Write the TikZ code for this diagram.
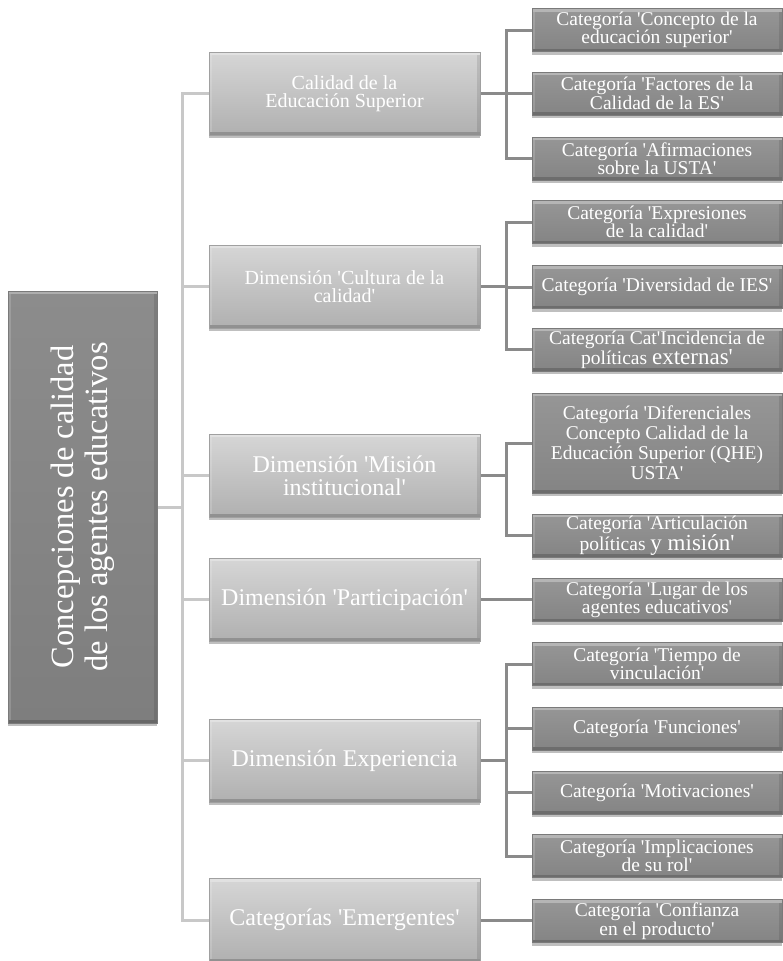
\documentclass[tikz,border=0pt]{standalone}
\usepackage{fontspec}
\setmainfont[Ligatures=TeXOff]{Liberation Serif}
\usetikzlibrary{shadows,backgrounds}
\definecolor{lonetop}{HTML}{D6D6D6}
\definecolor{lonebot}{HTML}{B0B0B0}
\definecolor{loneedge}{HTML}{A0A0A0}
\definecolor{ltwotop}{HTML}{969696}
\definecolor{ltwobot}{HTML}{848484}
\definecolor{ltwoedge}{HTML}{7A7A7A}
\definecolor{roottop}{HTML}{8C8C8C}
\definecolor{rootbot}{HTML}{7E7E7E}
\definecolor{trunkcol}{HTML}{C8C8C8}
\definecolor{branchcol}{HTML}{8A8A8A}
\begin{document}
\begin{tikzpicture}[x=1pt,y=-1pt,
  softshadow/.style={drop shadow={shadow xshift=0pt,shadow yshift=-3pt,opacity=0.25,fill=black}},
  bevel/.style={path picture={
      \fill[white,opacity=0.30] (path picture bounding box.north west) rectangle
        ([yshift=-3pt]path picture bounding box.north east);
      \fill[black,opacity=0.18] ([yshift=3pt]path picture bounding box.south west) rectangle
        (path picture bounding box.south east);
      \fill[white,opacity=0.15] ([yshift=-3pt]path picture bounding box.north west) rectangle
        ([xshift=3pt,yshift=3pt]path picture bounding box.south west);
      \fill[black,opacity=0.10] ([xshift=-3pt,yshift=-3pt]path picture bounding box.north east) rectangle
        ([yshift=3pt]path picture bounding box.south east);}},
  lvlone/.style={rectangle, minimum width=271pt, minimum height=83pt, inner sep=2pt,
    align=center, text=white, font=\fontsize{20}{18.5}\selectfont,
    top color=lonetop, bottom color=lonebot, draw=loneedge, line width=0.5pt,
    softshadow, bevel},
  bigtext/.style={font=\fontsize{24}{23}\selectfont},
  lvltwo/.style={rectangle, minimum width=250pt, minimum height=43pt, inner sep=1pt,
    align=center, text=white, font=\fontsize{19.5}{18.5}\selectfont,
    top color=ltwotop, bottom color=ltwobot, draw=ltwoedge, line width=0.5pt,
    softshadow, bevel},
  rootbox/.style={rectangle, minimum width=149pt, minimum height=432pt, inner sep=0pt,
    text=white, top color=roottop, bottom color=rootbot, draw=ltwoedge, line width=0.5pt,
    softshadow, bevel},
  trunk/.style={draw=trunkcol, line width=3pt},
  branch/.style={draw=branchcol, line width=3pt}
]
\useasboundingbox (0,0) rectangle (782,961);

% root
\node[rootbox] (root) at (82.5,507) {\rotatebox{90}{\parbox{420pt}{\centering\fontsize{32.5}{34}\selectfont Concepciones de calidad\\de los agentes educativos}}};

% level one
\node[lvlone] (L1) at (344.5,93.5) {Calidad de la\\Educación Superior};
\node[lvlone] (L2) at (344.5,286.5) {Dimensión 'Cultura de la\\calidad'};
\node[lvlone,bigtext] (L3) at (344.5,475.5) {Dimensión 'Misión\\institucional'};
\node[lvlone,bigtext] (L4) at (344.5,599.5) {Dimensión 'Participación'};
\node[lvlone,bigtext] (L5) at (344.5,760.5) {Dimensión Experiencia};
\node[lvlone,bigtext] (L6) at (344.5,920) {Categorías 'Emergentes'};

% level two
\node[lvltwo] (C1) at (657,30) {Categoría 'Concepto de la\\educación superior'};
\node[lvltwo] (C2) at (657,93.5) {Categoría 'Factores de la\\Calidad de la ES'};
\node[lvltwo] (C3) at (657,158.5) {Categoría 'Afirmaciones\\sobre la USTA'};
\node[lvltwo] (C4) at (657,222) {Categoría 'Expresiones\\de la calidad'};
\node[lvltwo] (C5) at (657,287) {Categoría 'Diversidad de IES'};
\node[lvltwo] (C6) at (657,349.5) {Categoría Cat'Incidencia de\\políticas {\fontsize{23}{18.5}\selectfont externas'}};
\node[lvltwo,minimum height=100pt,font=\fontsize{19.5}{20}\selectfont] (C7) at (657,443) {Categoría 'Diferenciales\\Concepto Calidad de la\\Educación Superior (QHE)\\USTA'};
\node[lvltwo] (C8) at (657,535.5) {Categoría 'Articulación\\políticas {\fontsize{23}{18.5}\selectfont y misión'}};
\node[lvltwo] (C9) at (657,600) {Categoría 'Lugar de los\\agentes educativos'};
\node[lvltwo] (C10) at (657,664) {Categoría 'Tiempo de\\vinculación'};
\node[lvltwo] (C11) at (657,728.5) {Categoría 'Funciones'};
\node[lvltwo] (C12) at (657,792.5) {Categoría 'Motivaciones'};
\node[lvltwo] (C13) at (657,856) {Categoría 'Implicaciones\\de su rol'};
\node[lvltwo] (C14) at (657,921) {Categoría 'Confianza\\en el producto'};

\begin{scope}[on background layer]
  \foreach \n in {L1,L2,L3,L4,L5,L6}
    \draw[trunk] (root.east) -- ++(25,0) |- (\n.west);
  \foreach \p/\c in {L1/C1,L1/C2,L1/C3,L2/C4,L2/C5,L2/C6,L3/C7,L3/C8,L5/C10,L5/C11,L5/C12,L5/C13}
    \draw[branch] (\p.east) -- ++(26,0) |- (\c.west);
  \draw[branch] (L4.east) -- (L4.east -| C9.west);
  \draw[branch] (L6.east) -- (L6.east -| C14.west);
\end{scope}
\end{tikzpicture}
\end{document}
